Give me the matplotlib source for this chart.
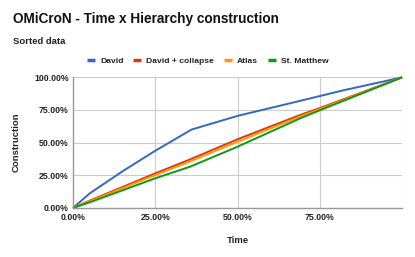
import matplotlib
matplotlib.use('Agg')
import matplotlib.pyplot as plt
from matplotlib.ticker import FuncFormatter

plt.rcParams['font.family'] = ['Liberation Sans', 'DejaVu Sans']

## Data
x_David = [0.0, 0.05, 0.15, 0.25, 0.36, 0.50, 0.69, 0.82, 1.0]
y_David = [0.0, 0.11, 0.28, 0.438, 0.60, 0.705, 0.82, 0.90, 1.0]

x_Collapse = [0.0, 0.05, 0.25, 0.356, 0.50, 0.69, 0.75, 1.0]
y_Collapse = [0.0, 0.055, 0.265, 0.372, 0.526, 0.712, 0.765, 1.0]

x_Atlas = [0.0, 0.05, 0.25, 0.356, 0.50, 0.69, 0.75, 1.0]
y_Atlas = [0.0, 0.05, 0.252, 0.356, 0.507, 0.70, 0.757, 1.0]

x_Matthew = [0.0, 0.05, 0.25, 0.356, 0.50, 0.69, 0.75, 1.0]
y_Matthew = [0.0, 0.042, 0.227, 0.316, 0.469, 0.686, 0.748, 1.0]

series_Names = ['David', 'David + collapse', 'Atlas', 'St. Matthew']
series_Colors = ['#3366cc', '#dc3912', '#ff9900', '#109618']
x_Ticks = [0.0, 0.25, 0.5, 0.75]
y_Ticks = [0.0, 0.25, 0.5, 0.75, 1.0]

## Figure
fig = plt.figure(figsize=(4.15, 2.57), dpi=100)
ax = fig.add_axes([0.176, 0.191, 0.793, 0.508])

all_X = [x_David, x_Collapse, x_Atlas, x_Matthew]
all_Y = [y_David, y_Collapse, y_Atlas, y_Matthew]
for xs, ys, name, col in zip(all_X, all_Y, series_Names, series_Colors):
    ax.plot(xs, ys, color=col, linewidth=1.4, label=name, solid_capstyle='butt', clip_on=False)

ax.set_xlim(0, 1)
ax.set_ylim(0, 1)
ax.set_xticks(x_Ticks)
ax.set_yticks(y_Ticks)
pct = FuncFormatter(lambda v, p: '{:.2f}%'.format(v * 100))
ax.xaxis.set_major_formatter(pct)
ax.yaxis.set_major_formatter(pct)

## Grid
for v in [0.25, 0.5, 0.75, 1.0]:
    ax.axvline(v, color='#cccccc', linewidth=0.8, zorder=0)
    ax.axhline(v, color='#cccccc', linewidth=0.8, zorder=0)

for s in ['top', 'right']:
    ax.spines[s].set_visible(False)
for s in ['left', 'bottom']:
    ax.spines[s].set_color('#999999')
    ax.spines[s].set_linewidth(1.0)

ax.tick_params(axis='x', length=0, pad=4, labelsize=6.3, colors='#222222')
ax.tick_params(axis='y', length=0, pad=3, labelsize=6.3, colors='#222222')
for lbl in ax.get_xticklabels() + ax.get_yticklabels():
    lbl.set_fontweight('bold')

ax.set_xlabel('Time', fontsize=6.8, fontweight='bold', labelpad=10, color='#222222')
ax.set_ylabel('Construction', fontsize=6.8, fontweight='bold', labelpad=10, color='#222222')

## Legend
leg = ax.legend(loc='lower center', bbox_to_anchor=(0.409, 1.07), ncol=4, frameon=False,
                prop={'size': 6.1, 'weight': 'bold'}, handlelength=0.95, handletextpad=0.6,
                columnspacing=1.15, borderaxespad=0)
for t in leg.get_texts():
    t.set_color('#222222')
for h in leg.legend_handles:
    h.set_linewidth(2.5)

## Titles
fig.text(13 / 415, 1 - 19 / 257, 'OMiCroN - Time x Hierarchy construction', fontsize=9.8,
         fontweight='bold', va='center', ha='left', color='#111111')
fig.text(13 / 415, 1 - 41 / 257, 'Sorted data', fontsize=6.8, fontweight='bold',
         va='center', ha='left', color='#222222')

fig.savefig('out.png', dpi=100)
